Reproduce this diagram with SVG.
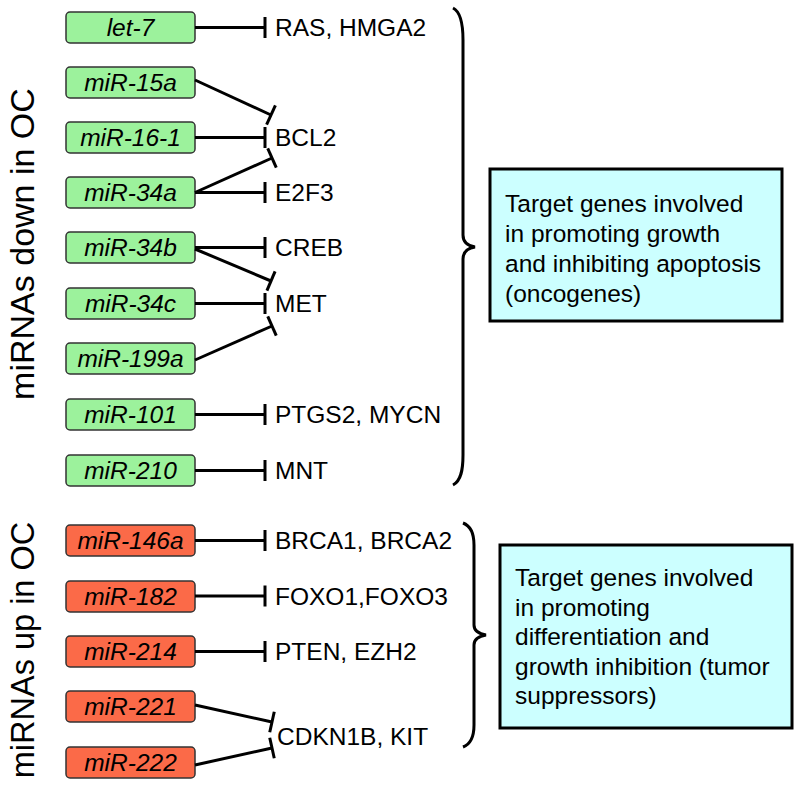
<svg xmlns="http://www.w3.org/2000/svg" width="800" height="786" viewBox="0 0 800 786">
<defs>
<marker id="tbar" markerUnits="userSpaceOnUse" markerWidth="6" markerHeight="24" viewBox="-3 -12 6 24" refX="0" refY="0" orient="auto">
<path d="M0,-10.5 V10.5" stroke="#000" stroke-width="3" fill="none"/>
</marker>
</defs>
<style>
.g rect{fill:#9cf29c;stroke:#333;stroke-width:1.5}
.r rect{fill:#fb6a48;stroke:#333;stroke-width:1.5}
.lbl{font-family:"Liberation Sans",Arial,sans-serif;font-style:italic;font-size:24.5px;text-anchor:middle;fill:#000}
.tg{font-family:"Liberation Sans",Arial,sans-serif;font-size:24.5px;fill:#000}
.side{font-family:"Liberation Sans",Arial,sans-serif;text-anchor:middle;fill:#000}
.info rect{fill:#ccffff;stroke:#000;stroke-width:3}
.info text{font-family:"Liberation Sans",Arial,sans-serif;font-size:24.5px;fill:#000}
.c line{stroke:#000;stroke-width:3;marker-end:url(#tbar)}
.brace{fill:none;stroke:#000;stroke-width:3}
</style>
<rect width="800" height="786" fill="#fff"/>

<text class="side" font-size="34" transform="translate(34,244) rotate(-90)">miRNAs down in OC</text>
<text class="side" font-size="32.5" transform="translate(34,650) rotate(-90)">miRNAs up in OC</text>

<g id="let-7" class="g"><rect x="66" y="12" width="129" height="31" rx="4"/><text class="lbl" x="130.5" y="36">let-7</text></g>
<g id="miR-15a" class="g"><rect x="66" y="67" width="129" height="31" rx="4"/><text class="lbl" x="130.5" y="91">miR-15a</text></g>
<g id="miR-16-1" class="g"><rect x="66" y="122" width="129" height="31" rx="4"/><text class="lbl" x="130.5" y="146">miR-16-1</text></g>
<g id="miR-34a" class="g"><rect x="66" y="177" width="129" height="31" rx="4"/><text class="lbl" x="130.5" y="201">miR-34a</text></g>
<g id="miR-34b" class="g"><rect x="66" y="232" width="129" height="31" rx="4"/><text class="lbl" x="130.5" y="256">miR-34b</text></g>
<g id="miR-34c" class="g"><rect x="66" y="288" width="129" height="31" rx="4"/><text class="lbl" x="130.5" y="312">miR-34c</text></g>
<g id="miR-199a" class="g"><rect x="66" y="343" width="129" height="31" rx="4"/><text class="lbl" x="130.5" y="367">miR-199a</text></g>
<g id="miR-101" class="g"><rect x="66" y="399" width="129" height="31" rx="4"/><text class="lbl" x="130.5" y="423">miR-101</text></g>
<g id="miR-210" class="g"><rect x="66" y="455" width="129" height="31" rx="4"/><text class="lbl" x="130.5" y="479">miR-210</text></g>

<g id="miR-146a" class="r"><rect x="66" y="525" width="129" height="31" rx="4"/><text class="lbl" x="130.5" y="549">miR-146a</text></g>
<g id="miR-182" class="r"><rect x="66" y="581" width="129" height="31" rx="4"/><text class="lbl" x="130.5" y="605">miR-182</text></g>
<g id="miR-214" class="r"><rect x="66" y="636" width="129" height="31" rx="4"/><text class="lbl" x="130.5" y="660">miR-214</text></g>
<g id="miR-221" class="r"><rect x="66" y="691" width="129" height="31" rx="4"/><text class="lbl" x="130.5" y="715">miR-221</text></g>
<g id="miR-222" class="r"><rect x="66" y="747" width="129" height="31" rx="4"/><text class="lbl" x="130.5" y="771">miR-222</text></g>

<g id="targets">
<text class="tg" x="275" y="36">RAS, HMGA2</text>
<text class="tg" x="275" y="146">BCL2</text>
<text class="tg" x="275" y="201">E2F3</text>
<text class="tg" x="275" y="256">CREB</text>
<text class="tg" x="275" y="312">MET</text>
<text class="tg" x="275" y="423">PTGS2, MYCN</text>
<text class="tg" x="275" y="479">MNT</text>
<text class="tg" x="275" y="549">BRCA1, BRCA2</text>
<text class="tg" x="275" y="605">FOXO1,FOXO3</text>
<text class="tg" x="275" y="660">PTEN, EZH2</text>
<text class="tg" x="277" y="745">CDKN1B, KIT</text>
</g>

<g id="connectors" class="c">
<line x1="195" y1="27.5" x2="265" y2="27.5"/>
<line x1="195" y1="80" x2="271" y2="115"/>
<line x1="195" y1="137.5" x2="265" y2="137.5"/>
<line x1="195" y1="192.5" x2="272" y2="158"/>
<line x1="195" y1="192.5" x2="265" y2="192.5"/>
<line x1="195" y1="247.5" x2="265" y2="247.5"/>
<line x1="195" y1="249" x2="271" y2="281"/>
<line x1="195" y1="303.5" x2="265" y2="303.5"/>
<line x1="195" y1="360" x2="272" y2="326"/>
<line x1="195" y1="414.5" x2="265" y2="414.5"/>
<line x1="195" y1="470.5" x2="265" y2="470.5"/>
<line x1="195" y1="540.5" x2="265" y2="540.5"/>
<line x1="195" y1="596" x2="265" y2="596"/>
<line x1="195" y1="651.5" x2="265" y2="651.5"/>
<line x1="195" y1="705" x2="272" y2="722"/>
<line x1="195" y1="765" x2="272" y2="748"/>
</g>

<path class="brace" d="M453,8 C461,12 463,25 463,40 V235 Q463,245 475,247 Q463,249 463,259 V455 C463,470 461,481 453,485"/>
<path class="brace" d="M463,523 C471,526 474,535 474,545 V625 Q474,633 486,635 Q474,637 474,645 V725 C474,735 471,744 463,747"/>

<g id="oncogenes" class="info">
<rect x="490" y="169" width="292" height="152"/>
<text x="505" y="212">Target genes involved</text>
<text x="505" y="242">in promoting growth</text>
<text x="505" y="272">and inhibiting apoptosis</text>
<text x="505" y="302">(oncogenes)</text>
</g>
<g id="suppressors" class="info">
<rect x="500" y="545" width="292" height="183"/>
<text x="515" y="586">Target genes involved</text>
<text x="515" y="615.5">in promoting</text>
<text x="515" y="645">differentiation and</text>
<text x="515" y="674.5">growth inhibition (tumor</text>
<text x="515" y="704">suppressors)</text>
</g>
</svg>
